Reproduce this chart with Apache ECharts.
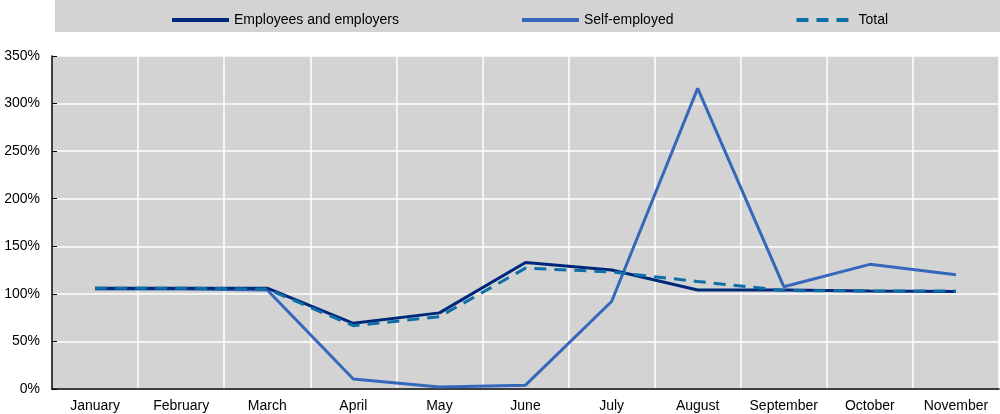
<!DOCTYPE html>
<html><head><meta charset="utf-8">
<script src="https://cdn.jsdelivr.net/npm/echarts@6/dist/echarts.min.js"></script>
<style>html,body{margin:0;padding:0;background:#fff}#c{width:1000px;height:414px}</style>
</head><body><div id="c"></div>
<script>
const months = ["January","February","March","April","May","June","July","August","September","October","November"];
const employees = [106,106,106,69,80,133,125,104,104,103,102.5];
const selfEmployed = [105,105,104,10.5,2,4,92,316,107.5,131,120];
const total = [106,106,105,66.5,76,127,123,113,103.5,103,103];
const yTicks = [0,50,100,150,200,250,300,350];

const FONT = "'Liberation Sans',Arial,sans-serif";
const chart = echarts.init(document.getElementById('c'));
chart.setOption({
  animation:false,
  textStyle:{fontFamily:FONT},
  graphic:[{type:'rect',left:55,top:0,shape:{width:945,height:32},style:{fill:'#D3D3D3'},z:-1}],
  legend:{
    top:8,left:165,itemWidth:57,itemHeight:5,itemGap:121,
    itemStyle:{opacity:0},
    lineStyle:{width:4},
    textStyle:{fontFamily:FONT,fontSize:14,color:'#000'},
    data:['Employees and employers','Self-employed','Total']
  },
  grid:{left:52,right:1,top:56,bottom:25,show:true,backgroundColor:'#D3D3D3',borderWidth:0},
  xAxis:{
    type:'category',data:months,boundaryGap:true,
    axisLine:{lineStyle:{color:'#000',width:1.5}},
    axisTick:{inside:true,length:5,interval:0,lineStyle:{color:'#000'}},
    axisLabel:{color:'#000',fontSize:14,margin:10,interval:0,fontFamily:FONT},
    splitLine:{show:true,interval:0,lineStyle:{color:'#fff',width:1.5}}
  },
  yAxis:{
    type:'value',min:yTicks[0],max:yTicks[yTicks.length-1],interval:50,
    axisLine:{show:true,lineStyle:{color:'#000',width:1.5}},
    axisTick:{show:true,inside:true,length:5,lineStyle:{color:'#000'}},
    axisLabel:{color:'#000',fontSize:14,margin:12,fontFamily:FONT,formatter:v=>v+'%'},
    splitLine:{show:true,lineStyle:{color:'#fff',width:1.5}}
  },
  series:[
    {name:'Employees and employers',type:'line',data:employees,symbol:'none',z:3,
      lineStyle:{color:'#00287A',width:3},itemStyle:{color:'#00287A'}},
    {name:'Self-employed',type:'line',data:selfEmployed,symbol:'none',z:2,
      lineStyle:{color:'#3567BB',width:3},itemStyle:{color:'#3567BB'}},
    {name:'Total',type:'line',data:total,symbol:'none',z:4,
      lineStyle:{color:'#0E6FA8',width:3,type:[12,8]},itemStyle:{color:'#0E6FA8'}}
  ]
});
</script></body></html>
